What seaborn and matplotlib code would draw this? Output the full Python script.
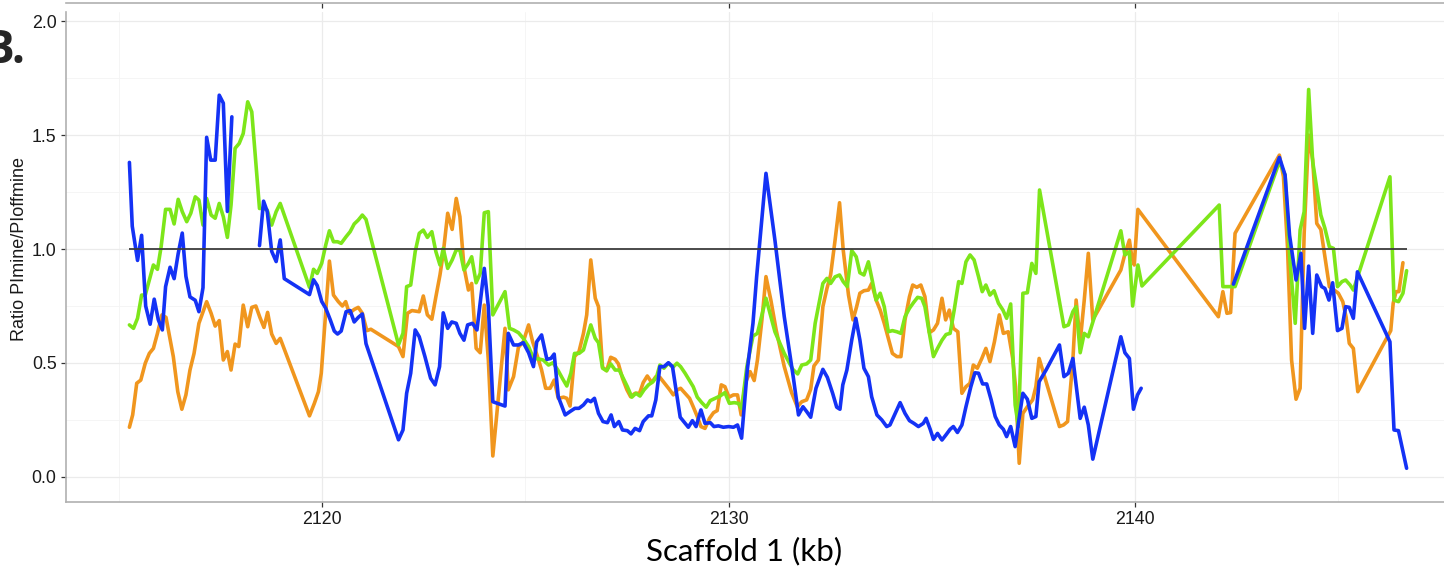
import numpy as np
import pandas as pd
import matplotlib
matplotlib.use("Agg")
import matplotlib.pyplot as plt
import seaborn as sns

# Position along scaffold 1 (kb) and PImine/PIoffmine ratio for three samples.
# NaN marks a stretch without data, where the line is broken.
nan = np.nan

blue_kb = [
    2115.26, 2115.33, 2115.46, 2115.56, 2115.66, 2115.77, 2115.87, 2115.97, 2116.07, 2116.15,
    2116.26, 2116.36, 2116.46, 2116.56, 2116.65, 2116.75, 2116.88, 2116.97, 2117.07, 2117.16,
    2117.26, 2117.37, 2117.47, 2117.57, 2117.67, 2117.78, 2118.10,
    2118.46, 2118.56, 2118.65, 2118.76, 2118.87, 2118.97, 2119.07, 2119.69, 2119.79, 2119.88,
    2119.99, 2120.09, 2120.20, 2120.30, 2120.38, 2120.47, 2120.59, 2120.69, 2120.79, 2120.89,
    2120.99, 2121.08, 2121.88, 2121.99, 2122.08, 2122.18, 2122.29, 2122.39, 2122.53, 2122.67,
    2122.78, 2122.89, 2122.98, 2123.09, 2123.19, 2123.30, 2123.39, 2123.49, 2123.58, 2123.70,
    2123.81, 2123.99, 2124.09, 2124.20, 2124.50, 2124.58, 2124.71, 2124.83, 2124.95, 2125.08,
    2125.20, 2125.28, 2125.40, 2125.53, 2125.63, 2125.71, 2125.81, 2125.98, 2126.10, 2126.22,
    2126.32, 2126.43, 2126.53, 2126.61, 2126.70, 2126.80, 2126.91, 2127.02, 2127.11, 2127.19,
    2127.30, 2127.39, 2127.51, 2127.60, 2127.70, 2127.81, 2127.90, 2128.03, 2128.11, 2128.21,
    2128.31, 2128.41, 2128.52, 2128.62, 2128.81, 2129.01, 2129.11, 2129.20, 2129.32, 2129.42,
    2129.55, 2129.64, 2129.75, 2129.87, 2130.00, 2130.12, 2130.22, 2130.32, 2130.46, 2130.60,
    2130.69, 2130.92, 2131.14, 2131.37, 2131.59, 2131.72, 2131.83, 2131.92, 2132.02, 2132.15,
    2132.32, 2132.43, 2132.56, 2132.66, 2132.74, 2132.81, 2132.91, 2133.03, 2133.13, 2133.23,
    2133.33, 2133.44, 2133.52, 2133.65, 2133.77, 2133.89, 2133.97, 2134.10, 2134.22, 2134.34,
    2134.45, 2134.56, 2134.67, 2134.79, 2134.86, 2134.96, 2135.04, 2135.14, 2135.25, 2135.35,
    2135.45, 2135.53, 2135.63, 2135.74, 2135.84, 2135.96, 2136.06, 2136.15, 2136.25, 2136.35,
    2136.46, 2136.56, 2136.66, 2136.76, 2136.84, 2136.94, 2137.05, 2137.13, 2137.24, 2137.35,
    2137.46, 2137.56, 2137.64, 2137.81, 2138.14, 2138.25, 2138.36, 2138.47, 2138.65, 2138.75,
    2138.85, 2138.96, 2139.65, 2139.75, 2139.86, 2139.96, 2140.06, 2140.15, 2141.30,
    2142.42, 2143.55, 2143.69, 2143.80, 2143.96, 2144.08, 2144.17, 2144.27, 2144.37, 2144.47,
    2144.59, 2144.67, 2144.77, 2144.86, 2144.98, 2145.09, 2145.18, 2145.27, 2145.37, 2145.47,
    2146.27, 2146.37, 2146.48, 2146.68,
]
blue_ratio = [
    1.38, 1.10, 0.95, 1.06, 0.75, 0.67, 0.78, 0.69, 0.645, 0.835,
    0.92, 0.87, 0.98, 1.07, 0.88, 0.79, 0.775, 0.725, 0.83, 1.49,
    1.39, 1.39, 1.675, 1.64, 1.165, 1.58, nan,
    1.015, 1.21, 1.165, 0.99, 0.945, 1.04, 0.87, 0.80, 0.865, 0.84,
    0.77, 0.74, 0.69, 0.64, 0.627, 0.64, 0.725, 0.73, 0.68, 0.70,
    0.715, 0.585, 0.163, 0.206, 0.367, 0.455, 0.645, 0.615, 0.528, 0.433,
    0.404, 0.484, 0.72, 0.652, 0.68, 0.674, 0.63, 0.60, 0.667, 0.674,
    0.645, 0.915, 0.747, 0.33, 0.311, 0.63, 0.579, 0.579, 0.589, 0.545,
    0.484, 0.593, 0.623, 0.516, 0.52, 0.539, 0.352, 0.272, 0.287, 0.301,
    0.301, 0.316, 0.338, 0.33, 0.345, 0.279, 0.243, 0.238, 0.272, 0.221,
    0.243, 0.206, 0.203, 0.189, 0.213, 0.203, 0.243, 0.268, 0.268, 0.338,
    0.484, 0.484, 0.501, 0.484, 0.262, 0.218, 0.247, 0.221, 0.294, 0.235,
    0.238, 0.221, 0.224, 0.218, 0.221, 0.218, 0.228, 0.17, 0.469, 0.674,
    0.878, 1.332, 1.039, 0.703, 0.44, 0.272, 0.308, 0.287, 0.262, 0.389,
    0.472, 0.437, 0.367, 0.306, 0.297, 0.404, 0.469, 0.601, 0.696, 0.601,
    0.477, 0.44, 0.352, 0.272, 0.25, 0.221, 0.228, 0.279, 0.326, 0.279,
    0.247, 0.235, 0.221, 0.235, 0.257, 0.209, 0.165, 0.191, 0.162, 0.185,
    0.209, 0.221, 0.195, 0.228, 0.308, 0.396, 0.457, 0.455, 0.408, 0.408,
    0.338, 0.265, 0.228, 0.209, 0.177, 0.221, 0.133, 0.235, 0.367, 0.341,
    0.257, 0.265, 0.418, 0.469, 0.579, 0.44, 0.455, 0.52, 0.257, 0.306,
    0.228, 0.078, 0.615, 0.545, 0.52, 0.297, 0.36, 0.389, nan,
    0.846, 1.402, 1.325, 1.061, 0.864, 0.981, 0.652, 0.925, 0.63, 0.886,
    0.835, 0.827, 0.776, 0.852, 0.642, 0.652, 0.747, 0.744, 0.696, 0.90,
    0.593, 0.206, 0.203, 0.038,
]

orange_kb = [
    2115.26, 2115.34, 2115.44, 2115.54, 2115.65, 2115.75, 2115.85, 2115.95, 2116.06, 2116.16,
    2116.34, 2116.45, 2116.55, 2116.65, 2116.75, 2116.85, 2116.97, 2117.16, 2117.27, 2117.37,
    2117.47, 2117.57, 2117.67, 2117.76, 2117.86, 2117.95, 2118.06, 2118.17, 2118.27, 2118.37,
    2118.47, 2118.57, 2118.66, 2118.76, 2118.87, 2118.97, 2119.69, 2119.81, 2119.91, 2119.98,
    2120.18, 2120.28, 2120.40, 2120.50, 2120.58, 2120.67, 2120.79, 2120.89, 2120.99, 2121.10,
    2121.20, 2121.88, 2121.99, 2122.10, 2122.21, 2122.39, 2122.49, 2122.59, 2122.70, 2122.80,
    2122.90, 2122.98, 2123.09, 2123.20, 2123.30, 2123.39, 2123.49, 2123.60, 2123.68, 2123.79,
    2123.89, 2123.99, 2124.09, 2124.20, 2124.50, 2124.58, 2124.71, 2124.83, 2124.95, 2125.08,
    2125.18, 2125.30, 2125.40, 2125.50, 2125.61, 2125.71, 2125.81, 2125.94, 2126.02, 2126.10,
    2126.21, 2126.32, 2126.43, 2126.51, 2126.61, 2126.72, 2126.80, 2126.90, 2127.00, 2127.10,
    2127.21, 2127.29, 2127.39, 2127.50, 2127.59, 2127.70, 2127.81, 2127.90, 2128.00, 2128.11,
    2128.21, 2128.31, 2128.44, 2128.54, 2128.64, 2128.74, 2128.82, 2128.93, 2129.04, 2129.13,
    2129.23, 2129.32, 2129.42, 2129.53, 2129.63, 2129.72, 2129.82, 2129.91, 2130.01, 2130.12,
    2130.22, 2130.31, 2130.41, 2130.53, 2130.63, 2130.71, 2130.82, 2130.92, 2131.04, 2131.17,
    2131.37, 2131.55, 2131.69, 2131.80, 2131.92, 2132.02, 2132.10, 2132.21, 2132.32, 2132.42,
    2132.51, 2132.62, 2132.73, 2132.82, 2132.95, 2133.06, 2133.15, 2133.23, 2133.33, 2133.44,
    2133.52, 2133.63, 2133.73, 2133.83, 2133.93, 2134.03, 2134.14, 2134.24, 2134.34, 2134.45,
    2134.53, 2134.63, 2134.73, 2134.83, 2134.94, 2135.04, 2135.14, 2135.25, 2135.34, 2135.43,
    2135.53, 2135.64, 2135.74, 2135.84, 2135.94, 2136.02, 2136.12, 2136.23, 2136.33, 2136.43,
    2136.54, 2136.66, 2136.76, 2136.88, 2136.99, 2137.06, 2137.15, 2137.24, 2137.35, 2137.48,
    2137.56, 2137.64, 2138.14, 2138.24, 2138.34, 2138.47, 2138.55, 2138.65, 2138.75, 2138.85,
    2138.96, 2139.65, 2139.75, 2139.86, 2139.92, 2139.98, 2140.07, 2142.05, 2142.16, 2142.26,
    2142.35, 2142.46, 2143.55, 2143.65, 2143.75, 2143.85, 2143.96, 2144.06, 2144.16, 2144.27,
    2144.37, 2144.47, 2144.57, 2144.67, 2144.78, 2144.90, 2145.00, 2145.11, 2145.19, 2145.27,
    2145.37, 2145.48, 2146.29, 2146.35, 2146.42, 2146.49, 2146.59,
]
orange_ratio = [
    0.218, 0.272, 0.411, 0.425, 0.499, 0.542, 0.564, 0.63, 0.711, 0.70,
    0.528, 0.374, 0.297, 0.36, 0.469, 0.542, 0.674, 0.769, 0.718, 0.662,
    0.686, 0.513, 0.55, 0.469, 0.583, 0.572, 0.754, 0.659, 0.744, 0.75,
    0.70, 0.656, 0.722, 0.627, 0.586, 0.608, 0.268, 0.323, 0.374, 0.455,
    0.947, 0.798, 0.769, 0.75, 0.769, 0.718, 0.735, 0.744, 0.718, 0.642,
    0.648, 0.572, 0.528, 0.718, 0.73, 0.725, 0.794, 0.711, 0.692, 0.791,
    0.886, 0.981, 1.157, 1.086, 1.222, 1.142, 0.922, 0.82, 0.849, 0.564,
    0.545, 0.754, 0.513, 0.092, 0.652, 0.382, 0.44, 0.569, 0.593, 0.667,
    0.593, 0.528, 0.469, 0.389, 0.389, 0.425, 0.345, 0.35, 0.345, 0.311,
    0.528, 0.55, 0.63, 0.711, 0.952, 0.784, 0.747, 0.481, 0.466, 0.525,
    0.516, 0.496, 0.433, 0.382, 0.352, 0.367, 0.367, 0.414, 0.443, 0.414,
    0.44, 0.437, 0.408, 0.385, 0.36, 0.382, 0.389, 0.367, 0.345, 0.308,
    0.265, 0.221, 0.213, 0.257, 0.282, 0.291, 0.404, 0.396, 0.35, 0.36,
    0.36, 0.272, 0.411, 0.462, 0.423, 0.513, 0.689, 0.879, 0.776, 0.645,
    0.484, 0.37, 0.308, 0.33, 0.338, 0.385, 0.487, 0.513, 0.747, 0.827,
    0.886, 1.039, 1.203, 0.996, 0.798, 0.689, 0.747, 0.806, 0.817, 0.82,
    0.849, 0.776, 0.732, 0.674, 0.608, 0.542, 0.528, 0.528, 0.689, 0.791,
    0.842, 0.832, 0.842, 0.791, 0.633, 0.645, 0.674, 0.784, 0.689, 0.732,
    0.652, 0.637, 0.367, 0.396, 0.411, 0.491, 0.477, 0.52, 0.564, 0.506,
    0.593, 0.711, 0.63, 0.637, 0.52, 0.396, 0.06, 0.279, 0.308, 0.338,
    0.396, 0.52, 0.221, 0.228, 0.243, 0.513, 0.776, 0.593, 0.776, 0.981,
    0.689, 0.908, 0.978, 1.039, 0.966, 0.93, 1.174, 0.703, 0.813, 0.718,
    0.721, 1.069, 1.412, 1.317, 1.01, 0.513, 0.341, 0.389, 1.069, 1.50,
    1.39, 1.112, 1.086, 0.966, 0.835, 0.82, 0.806, 0.769, 0.703, 0.586,
    0.564, 0.374, 0.642, 0.762, 0.813, 0.813, 0.94,
]

green_kb = [
    2115.26, 2115.36, 2115.46, 2115.56, 2115.65, 2115.75, 2115.85, 2115.95, 2116.04, 2116.15,
    2116.26, 2116.36, 2116.46, 2116.56, 2116.67, 2116.77, 2116.88, 2116.97, 2117.07, 2117.16,
    2117.27, 2117.37, 2117.47, 2117.57, 2117.67, 2117.76, 2117.86, 2117.96, 2118.06, 2118.17,
    2118.27, 2118.46, 2118.56, 2118.65, 2118.76, 2118.87, 2118.97, 2119.69, 2119.79, 2119.88,
    2119.99, 2120.09, 2120.18, 2120.28, 2120.38, 2120.47, 2120.59, 2120.69, 2120.79, 2120.89,
    2120.99, 2121.08, 2121.88, 2121.99, 2122.08, 2122.18, 2122.29, 2122.39, 2122.49, 2122.59,
    2122.70, 2122.80, 2122.90, 2122.98, 2123.09, 2123.20, 2123.30, 2123.39, 2123.49, 2123.60,
    2123.68, 2123.79, 2123.89, 2123.99, 2124.09, 2124.20, 2124.50, 2124.61, 2124.71, 2124.83,
    2124.95, 2125.08, 2125.20, 2125.32, 2125.44, 2125.57, 2125.68, 2125.80, 2125.91, 2126.02,
    2126.12, 2126.21, 2126.32, 2126.43, 2126.51, 2126.61, 2126.72, 2126.80, 2126.90, 2127.00,
    2127.10, 2127.21, 2127.31, 2127.41, 2127.51, 2127.62, 2127.72, 2127.82, 2127.92, 2128.03,
    2128.14, 2128.23, 2128.31, 2128.41, 2128.52, 2128.63, 2128.73, 2128.82, 2128.93, 2129.04,
    2129.13, 2129.23, 2129.34, 2129.45, 2129.55, 2129.67, 2129.79, 2129.91, 2130.02, 2130.14,
    2130.24, 2130.32, 2130.45, 2130.60, 2130.71, 2130.92, 2131.14, 2131.37, 2131.58, 2131.70,
    2131.80, 2131.92, 2132.02, 2132.13, 2132.32, 2132.42, 2132.51, 2132.62, 2132.73, 2132.82,
    2132.92, 2133.03, 2133.14, 2133.23, 2133.33, 2133.44, 2133.54, 2133.63, 2133.73, 2133.83,
    2133.93, 2134.03, 2134.14, 2134.24, 2134.34, 2134.45, 2134.55, 2134.65, 2134.75, 2134.83,
    2134.94, 2135.04, 2135.14, 2135.25, 2135.35, 2135.45, 2135.55, 2135.66, 2135.74, 2135.84,
    2135.94, 2136.04, 2136.15, 2136.24, 2136.33, 2136.43, 2136.53, 2136.64, 2136.75, 2136.84,
    2136.94, 2137.05, 2137.13, 2137.24, 2137.35, 2137.46, 2137.56, 2137.65, 2138.25, 2138.36,
    2138.47, 2138.55, 2138.65, 2138.75, 2138.85, 2139.65, 2139.75, 2139.86, 2139.94, 2140.07,
    2140.17, 2142.07, 2142.16, 2142.46, 2143.55, 2143.69, 2143.81, 2143.94, 2144.06, 2144.16,
    2144.27, 2144.37, 2144.57, 2144.67, 2144.78, 2144.88, 2144.98, 2145.09, 2145.18, 2145.29,
    2145.37, 2146.27, 2146.37, 2146.48, 2146.59, 2146.68,
]
green_ratio = [
    0.667, 0.652, 0.696, 0.798, 0.798, 0.864, 0.93, 0.911, 1.01, 1.174,
    1.174, 1.11, 1.218, 1.164, 1.12, 1.157, 1.229, 1.215, 1.105, 1.222,
    1.149, 1.135, 1.20, 1.142, 1.051, 1.193, 1.442, 1.463, 1.507, 1.646,
    1.602, 1.178, 1.178, 1.171, 1.105, 1.164, 1.20, 0.832, 0.911, 0.893,
    0.937, 1.018, 1.08, 1.032, 1.032, 1.025, 1.054, 1.076, 1.11, 1.127,
    1.149, 1.13, 0.58, 0.63, 0.835, 0.842, 0.988, 1.069, 1.083, 1.051,
    1.076, 0.988, 0.93, 1.003, 0.915, 0.952, 0.996, 0.996, 0.908, 0.937,
    0.966, 0.852, 0.893, 1.159, 1.164, 0.711, 0.813, 0.652, 0.645, 0.633,
    0.608, 0.572, 0.52, 0.518, 0.513, 0.491, 0.501, 0.469, 0.433, 0.399,
    0.455, 0.542, 0.542, 0.557, 0.608, 0.667, 0.608, 0.589, 0.477, 0.466,
    0.496, 0.469, 0.469, 0.433, 0.396, 0.35, 0.367, 0.355, 0.382, 0.404,
    0.418, 0.44, 0.491, 0.477, 0.499, 0.481, 0.499, 0.484, 0.455, 0.423,
    0.396, 0.35, 0.326, 0.306, 0.335, 0.345, 0.355, 0.37, 0.323, 0.326,
    0.323, 0.301, 0.484, 0.618, 0.63, 0.784, 0.637, 0.542, 0.472, 0.452,
    0.491, 0.496, 0.513, 0.674, 0.849, 0.871, 0.849, 0.878, 0.886, 0.857,
    0.835, 0.993, 0.966, 0.896, 0.886, 0.944, 0.857, 0.776, 0.806, 0.747,
    0.637, 0.642, 0.637, 0.63, 0.703, 0.74, 0.765, 0.788, 0.784, 0.747,
    0.63, 0.528, 0.564, 0.60, 0.625, 0.63, 0.732, 0.857, 0.849, 0.944,
    0.974, 0.952, 0.878, 0.813, 0.842, 0.798, 0.817, 0.762, 0.732, 0.696,
    0.759, 0.316, 0.221, 0.806, 0.808, 0.937, 0.893, 1.259, 0.659, 0.667,
    0.725, 0.747, 0.545, 0.63, 0.615, 1.08, 0.974, 0.988, 0.75, 0.93,
    0.838, 1.193, 0.835, 0.835, 1.383, 1.325, 0.952, 0.674, 1.083, 1.164,
    1.70, 1.383, 1.149, 1.091, 1.01, 1.003, 0.835, 0.857, 0.864, 0.842,
    0.82, 1.317, 0.776, 0.769, 0.806, 0.905,
]

sample_names = ["sample C", "sample B", "sample A"]
sample_colors = ["#F0961E", "#7DE61A", "#1432F5"]
x_ticks = [2120, 2130, 2140]
y_ticks = [0.0, 0.5, 1.0, 1.5, 2.0]
reference_ratio = 1.0

# Long table; a new segment starts after every missing value
frames = []
for name, kb, ratio in zip(sample_names,
                           [orange_kb, green_kb, blue_kb],
                           [orange_ratio, green_ratio, blue_ratio]):
    d = pd.DataFrame({"kb": kb, "ratio": ratio})
    d["segment"] = name + "_" + d["ratio"].isna().cumsum().astype(str)
    d["sample"] = name
    frames.append(d.dropna())
df = pd.concat(frames, ignore_index=True)

sns.set_theme(style="white")
plt.rcParams["font.family"] = ["Liberation Sans", "DejaVu Sans"]

W, H = 1444, 570
fig = plt.figure(figsize=(W / 100, H / 100), dpi=100)
ax = fig.add_axes([66 / W, 68 / H, 1378 / W, 490 / H])

sns.lineplot(data=df, x="kb", y="ratio", hue="sample", units="segment",
             estimator=None, hue_order=sample_names,
             palette=dict(zip(sample_names, sample_colors)),
             linewidth=2.6, legend=False, ax=ax)

ax.hlines(reference_ratio, df["kb"].min(), df["kb"].max(),
          color="#3c3c3c", linewidth=1.3, zorder=5)

ax.set_xlim(2113.70, 2147.60)
ax.set_ylim(-0.11, 2.04)
ax.set_xticks(x_ticks)
ax.set_xticklabels([str(t) for t in x_ticks])
ax.set_xticks([2115, 2125, 2135, 2145], minor=True)
ax.set_yticks(y_ticks)
ax.set_yticklabels([f"{t:.1f}" for t in y_ticks])
ax.set_yticks([0.25, 0.75, 1.25, 1.75], minor=True)

ax.grid(which="major", color="#ebebeb", linewidth=0.9)
ax.grid(which="minor", color="#f4f4f4", linewidth=0.6)
ax.set_axisbelow(True)

for side in ["top", "right"]:
    ax.spines[side].set_visible(False)
for side in ["left", "bottom"]:
    ax.spines[side].set_color("#b0b0b0")
    ax.spines[side].set_linewidth(1.2)

ax.tick_params(which="major", length=3.6, width=0.9, color="#333333",
               labelsize=12.8, labelcolor="#1a1a1a", pad=3.2,
               bottom=True, left=True)
ax.tick_params(which="minor", length=0)

ax.set_xlabel("Scaffold 1 (kb)", fontsize=22.5, color="black",
              family=["Lato", "DejaVu Sans"])
ax.xaxis.set_label_coords(0.4917, -0.07)
ax.set_ylabel("Ratio PImine/PIoffmine", fontsize=13, color="#1a1a1a")
ax.yaxis.set_label_coords(-0.0276, 0.516)

# Bottom edge of the panel above
ax_top = fig.add_axes([66 / W, 1 - 3 / H, 1378 / W, 0.002])
ax_top.set_xlim(ax.get_xlim())
ax_top.set_facecolor("none")
for side in ["top", "right", "left"]:
    ax_top.spines[side].set_visible(False)
ax_top.spines["bottom"].set_color("#b0b0b0")
ax_top.spines["bottom"].set_linewidth(1.2)
ax_top.set_xticks(x_ticks)
ax_top.set_yticks([])
ax_top.tick_params(axis="x", length=3.6, width=0.9, color="#333333",
                   labelbottom=False, bottom=True)

fig.text(26 / W, 1 - 63 / H, "B.", fontsize=33, fontweight="bold",
         family=["Open Sans", "DejaVu Sans"], ha="right", va="baseline")

fig.savefig("out.png", dpi=100)
